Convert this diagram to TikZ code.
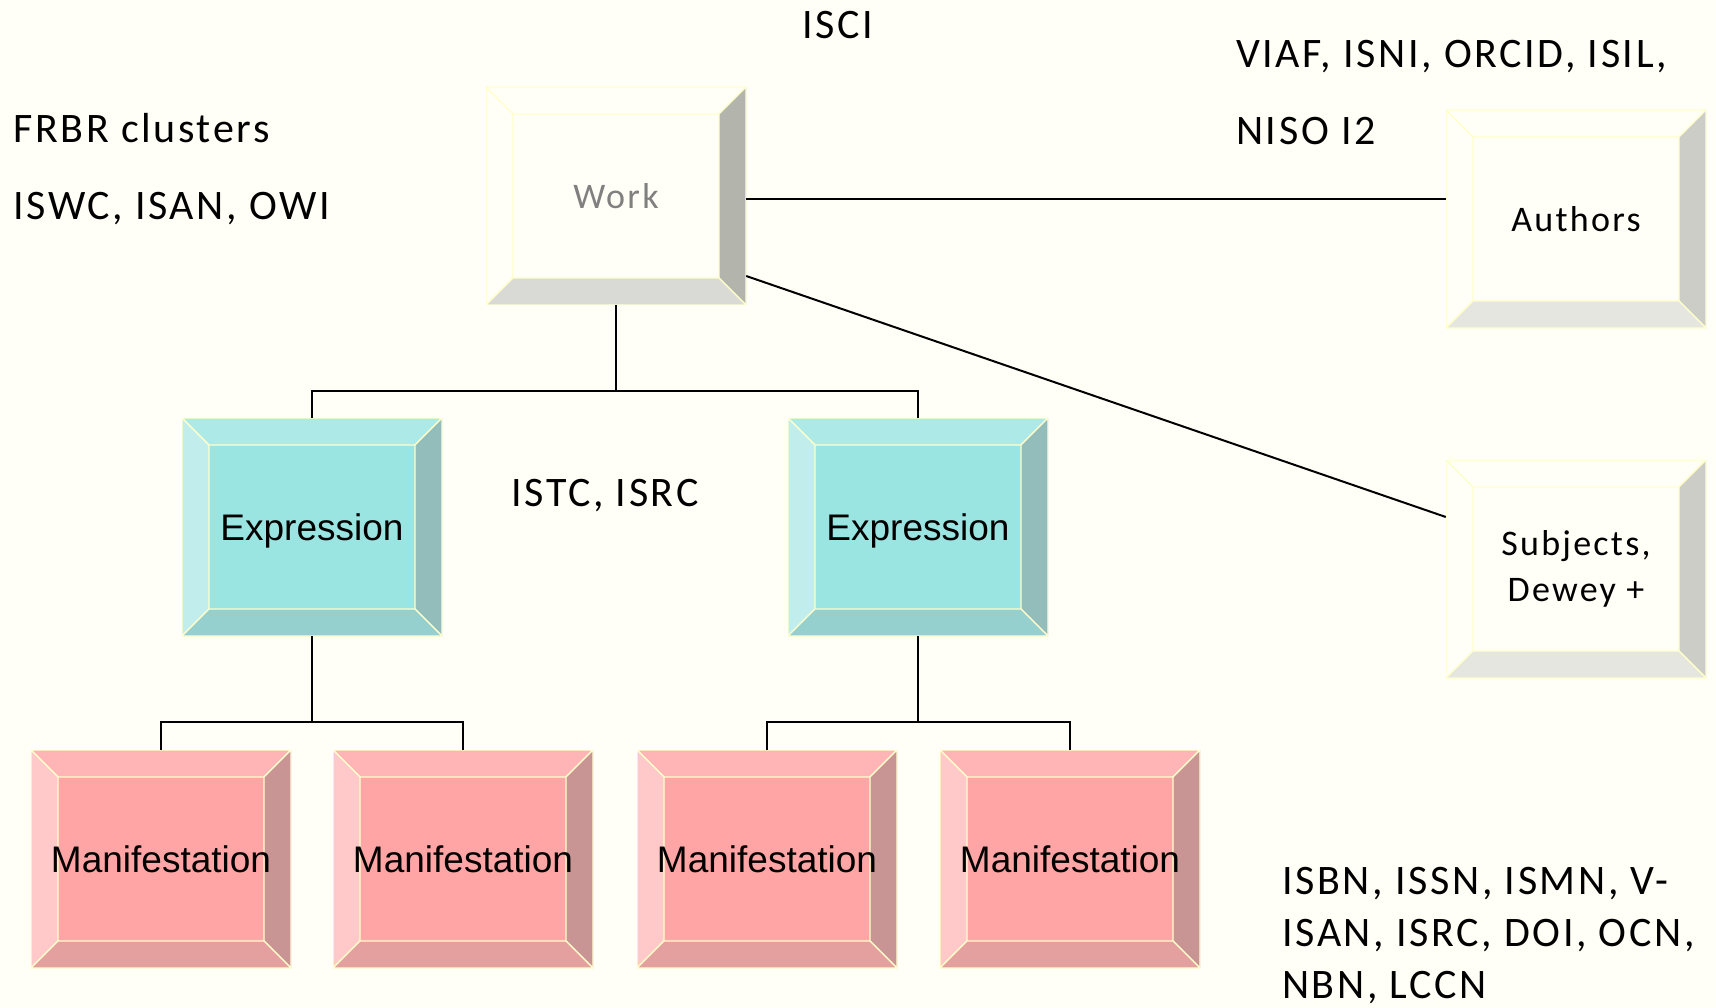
\documentclass[tikz,border=0pt]{standalone}
\usepackage{fontspec}
\setmainfont{Carlito}[LetterSpace=6.3]
\newfontfamily\arialfont{Liberation Sans}

\definecolor{paper}{HTML}{FFFFF7}
\definecolor{rim}{HTML}{FFFFCC}
\definecolor{workgray}{HTML}{808080}
\definecolor{workright}{HTML}{B3B5AD}
\definecolor{workbottom}{HTML}{D9DAD5}
\definecolor{sideright}{HTML}{CCCDC7}
\definecolor{sidebottom}{HTML}{E5E6E0}
\definecolor{exprface}{HTML}{9AE4E1}
\definecolor{exprtop}{HTML}{ADE9E7}
\definecolor{exprleft}{HTML}{C1EDEC}
\definecolor{exprright}{HTML}{92BDBB}
\definecolor{exprbottom}{HTML}{96D0CE}
\definecolor{manface}{HTML}{FFA5A5}
\definecolor{mantop}{HTML}{FFB5B5}
\definecolor{manleft}{HTML}{FFC9C9}
\definecolor{manright}{HTML}{C99594}
\definecolor{manbottom}{HTML}{E3A09F}

\tikzset{
	bevel/.style n args={5}{fill=#1, minimum width=260pt, minimum height=218pt, inner sep=0pt,
		path picture={
			\coordinate (nw) at (path picture bounding box.north west);
			\coordinate (ne) at (path picture bounding box.north east);
			\coordinate (sw) at (path picture bounding box.south west);
			\coordinate (se) at (path picture bounding box.south east);
			\coordinate (inw) at ([shift={(27pt,-27pt)}]nw);
			\coordinate (ine) at ([shift={(-27pt,-27pt)}]ne);
			\coordinate (isw) at ([shift={(27pt,27pt)}]sw);
			\coordinate (ise) at ([shift={(-27pt,27pt)}]se);
			\filldraw[draw=rim, line width=1.2pt, fill=#2] (nw) -- (ne) -- (ine) -- (inw) -- cycle;
			\filldraw[draw=rim, line width=1.2pt, fill=#3] (nw) -- (inw) -- (isw) -- (sw) -- cycle;
			\filldraw[draw=rim, line width=1.2pt, fill=#4] (ne) -- (ine) -- (ise) -- (se) -- cycle;
			\filldraw[draw=rim, line width=1.2pt, fill=#5] (sw) -- (isw) -- (ise) -- (se) -- cycle;
		}},
	workbox/.style={bevel={paper}{paper}{paper}{workright}{workbottom}, text=workgray, font=\fontsize{36}{44}\selectfont},
	sidebox/.style={bevel={paper}{paper}{paper}{sideright}{sidebottom}, align=center, font=\fontsize{36}{46}\selectfont},
	exprbox/.style={bevel={exprface}{exprtop}{exprleft}{exprright}{exprbottom}, text depth=0pt, font=\arialfont\fontsize{37}{44}\selectfont},
	manbox/.style={bevel={manface}{mantop}{manleft}{manright}{manbottom}, text depth=0pt, font=\arialfont\fontsize{37}{44}\selectfont},
	tag/.style={anchor=base west, inner sep=0pt, align=left, font=\fontsize{42}{52}\selectfont},
	link/.style={line width=2pt}
}

\begin{document}
\begin{tikzpicture}[x=1pt, y=-1pt]
	\path[use as bounding box, fill=paper] (0,0) rectangle (1716,1008);

	% boxes
	\node[workbox] (work) at (616,196) {Work};
	\node[sidebox] (authors) at (1576,219) {Authors};
	\node[sidebox] (subjects) at (1576,569) {Subjects,\\Dewey +};
	\node[exprbox] (exprA) at (312,527) {Expression};
	\node[exprbox] (exprB) at (918,527) {Expression};
	\node[manbox] (manA) at (161,859) {Manifestation};
	\node[manbox] (manB) at (463,859) {Manifestation};
	\node[manbox] (manC) at (767,859) {Manifestation};
	\node[manbox] (manD) at (1070,859) {Manifestation};

	% tree lines
	\coordinate (wsplit) at (616,391);
	\coordinate (asplit) at (312,722);
	\coordinate (bsplit) at (918,722);
	\draw[link] (work.south) -- (wsplit) -| (exprA.north);
	\draw[link] (wsplit) -| (exprB.north);
	\draw[link] (exprA.south) -- (asplit) -| (manA.north);
	\draw[link] (asplit) -| (manB.north);
	\draw[link] (exprB.south) -- (bsplit) -| (manC.north);
	\draw[link] (bsplit) -| (manD.north);
	\coordinate (wa) at ([yshift=-3pt]work.east);
	\draw[link] (wa) -- (wa -| authors.west);
	\draw[link] ([yshift=-80pt]work.east) -- ([yshift=52pt]subjects.west);

	% identifiers
	\node[tag] (isci) at (802,39) {ISCI};
	\node[tag] (viaf) at (1236,68) {VIAF, ISNI, ORCID, ISIL,};
	\node[tag] (niso) at (1236,145) {NISO I2};
	\node[tag] (frbr) at (13,143) {FRBR clusters};
	\node[tag] (iswc) at (13,220) {ISWC, ISAN, OWI};
	\node[tag] (istc) at (511,506) {ISTC, ISRC};
	\node[tag] (isbn) at (1282,998) {ISBN, ISSN, ISMN, V-\\ISAN, ISRC, DOI, OCN,\\NBN, LCCN};
\end{tikzpicture}
\end{document}
